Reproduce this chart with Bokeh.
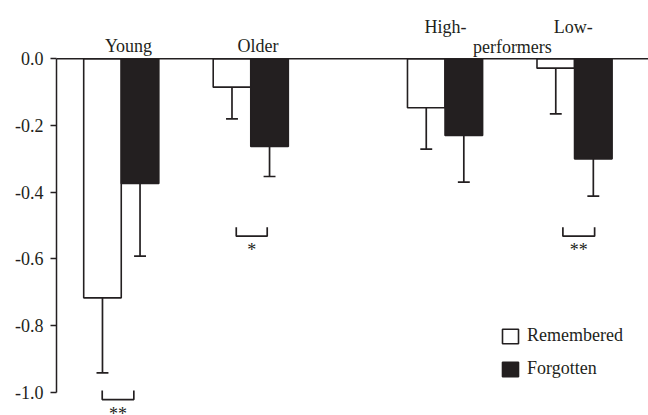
from bokeh.plotting import figure
from bokeh.models import (Range1d, FixedTicker, NumeralTickFormatter, Span,
                          Legend, LegendItem, ColumnDataSource)
from bokeh.core.properties import value
from bokeh.embed import file_html
from bokeh.resources import INLINE

# ---- data ----
group_labels = ["Young", "Older", "High-", "Low-"]
group_pos = [1.0, 2.0, 3.5, 4.5]
remembered = [-0.717, -0.085, -0.147, -0.028]
remembered_err = [0.225, 0.095, 0.124, 0.137]
forgotten = [-0.374, -0.263, -0.230, -0.300]
forgotten_err = [0.218, 0.090, 0.140, 0.112]
yticks = [0.0, -0.2, -0.4, -0.6, -0.8, -1.0]
sig_group = [1.0, 2.0, 4.5]
sig_left = [-0.147, -0.112, -0.090]
sig_right = [0.097, 0.127, 0.155]
sig_level = [-0.995, -0.505, -0.505]
sig_labels = ["**", "*", "**"]

INK = "#231f20"
FONT = "'Liberation Serif', 'Times New Roman', serif"
BW = 0.29
CAP = 0.046
BR_H = 0.027

p = figure(width=648, height=415, x_range=Range1d(0.5, 5.071),
           y_range=Range1d(-1.0699, 0.1749), output_backend="svg",
           toolbar_location=None, x_axis_location=None,
           min_border_left=56, min_border_right=0, min_border_top=0,
           min_border_bottom=0, outline_line_color=None,
           background_fill_color="white", border_fill_color="white")
p.xgrid.visible = False
p.ygrid.visible = False

ax = p.yaxis[0]
ax.ticker = FixedTicker(ticks=yticks)
ax.formatter = NumeralTickFormatter(format="0.0")
ax.bounds = (-1.0, 0.0)
ax.major_tick_out = 6
ax.major_tick_in = 0
ax.minor_tick_line_color = None
ax.axis_line_width = 1.5
ax.axis_line_color = INK
ax.major_tick_line_width = 1.5
ax.major_tick_line_color = INK
ax.major_label_text_font = FONT
ax.major_label_text_font_size = "18px"
ax.major_label_text_color = INK
ax.major_label_standoff = 7

rem_x = [g - BW / 2 for g in group_pos]
for_x = [g + BW / 2 for g in group_pos]

src_r = ColumnDataSource(dict(x=rem_x, v=remembered,
                              lo=[v - e for v, e in zip(remembered, remembered_err)]))
src_f = ColumnDataSource(dict(x=for_x, v=forgotten,
                              lo=[v - e for v, e in zip(forgotten, forgotten_err)]))

r_rem = p.vbar(x="x", width=BW, top=0, bottom="v", source=src_r,
               fill_color="white", line_color=INK, line_width=1.6)
r_for = p.vbar(x="x", width=BW, top=0, bottom="v", source=src_f,
               fill_color=INK, line_color=INK, line_width=1.6)

for src in (src_r, src_f):
    d = src.data
    p.segment(x0=d["x"], y0=d["v"], x1=d["x"], y1=d["lo"],
              line_color=INK, line_width=1.7)
    p.segment(x0=[x - CAP for x in d["x"]], y0=d["lo"],
              x1=[x + CAP for x in d["x"]], y1=d["lo"],
              line_color=INK, line_width=1.7)

p.add_layout(Span(location=0, dimension="width", line_color=INK, line_width=1.5))

# significance brackets
xs, ys = [], []
for g, l, r, y in zip(sig_group, sig_left, sig_right, sig_level):
    xs.append([g + l, g + l, g + r, g + r])
    ys.append([y, y - BR_H, y - BR_H, y])
p.multi_line(xs=xs, ys=ys, line_color=INK, line_width=1.7)
p.text(x=[g + (l + r) / 2 for g, l, r in zip(sig_group, sig_left, sig_right)],
       y=[y - BR_H for y in sig_level], text=sig_labels,
       text_align="center", text_baseline="top", y_offset=4,
       text_font=value(FONT), text_font_size="18px", text_color=INK)

# group labels
low_row = [0, 1]
p.text(x=[group_pos[i] + 0.056 for i in low_row], y=[0.037] * 2,
       text=[group_labels[i] for i in low_row], text_align="center",
       text_baseline="alphabetic", text_font=value(FONT),
       text_font_size="18px", text_color=INK)
p.text(x=[group_pos[2] + 0.004, group_pos[3] - 0.01], y=[0.096] * 2,
       text=[group_labels[2], group_labels[3]], text_align="center",
       text_baseline="alphabetic", text_font=value(FONT),
       text_font_size="18px", text_color=INK)
p.text(x=[(group_pos[2] + group_pos[3]) / 2 + 0.02], y=[0.034],
       text=["performers"], text_align="center",
       text_baseline="alphabetic", text_font=value(FONT),
       text_font_size="18px", text_color=INK)

legend = Legend(items=[LegendItem(label="Remembered", renderers=[r_rem]),
                       LegendItem(label="Forgotten", renderers=[r_for])],
                location=(444, 36), glyph_width=20, glyph_height=18,
                label_height=18, spacing=12, padding=0, margin=0,
                border_line_color=None, background_fill_alpha=0,
                label_text_font=FONT, label_text_font_size="18px",
                label_text_color=INK, label_standoff=7)
p.add_layout(legend)

open("out.html", "w").write(file_html(p, INLINE))
